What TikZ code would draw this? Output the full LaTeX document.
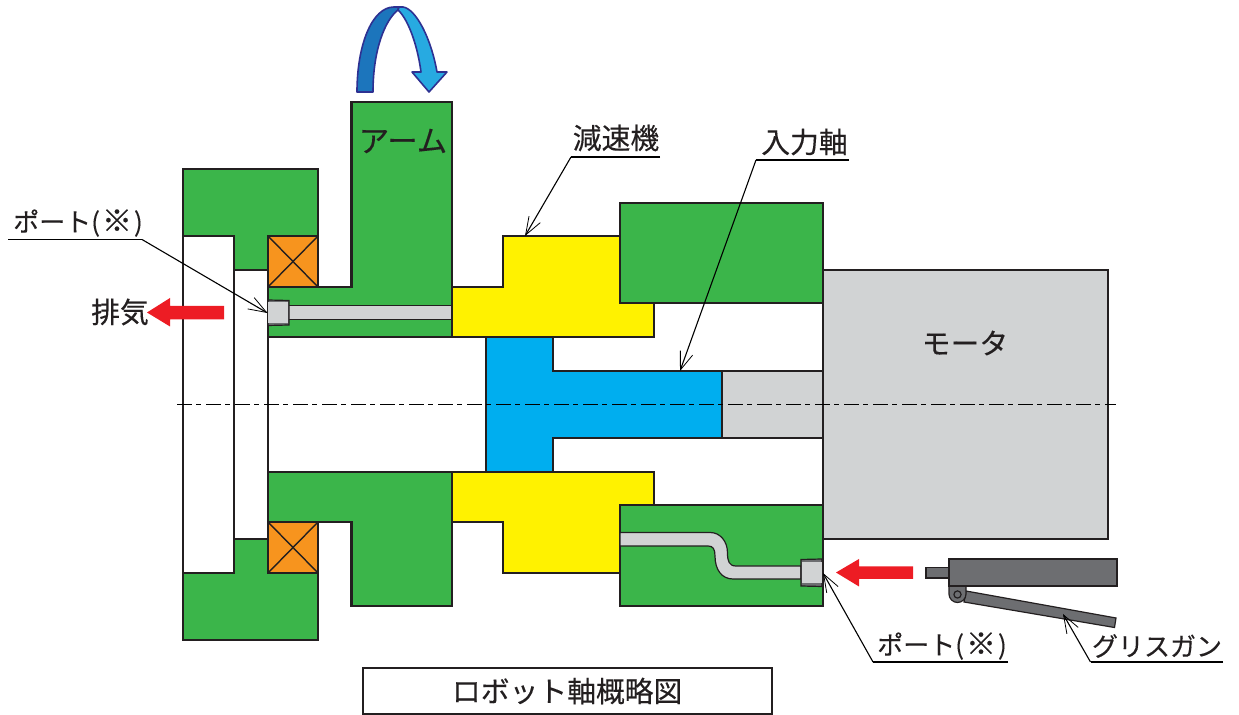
\documentclass[tikz,border=0pt]{standalone}
\usepackage{fontspec}
\setmainfont[FakeBold=0.25]{Noto Sans CJK JP}
\usetikzlibrary{arrows.meta}
\definecolor{cgreen}{HTML}{3BB54A}
\definecolor{corange}{HTML}{F7941E}
\definecolor{cyellow}{HTML}{FFF200}
\definecolor{cblue}{HTML}{00AEEF}
\definecolor{cgrey}{HTML}{D1D3D4}
\definecolor{cred}{HTML}{ED1C24}
\definecolor{cdark}{HTML}{6D6E71}
\definecolor{cink}{HTML}{231F20}
\definecolor{aleft}{HTML}{1C75BC}
\definecolor{aright}{HTML}{27AAE1}
\definecolor{aline}{HTML}{2E3192}
\tikzset{
  part/.style={draw=cink,line width=1.15pt,line join=miter},
  thinpart/.style={draw=cink,line width=0.6pt},
  leader/.style={draw=black,line width=0.55pt,-{Straight Barb[length=9pt,width=6.5pt,line width=0.4pt]}},
  rule/.style={draw=black,line width=0.7pt},
  lab/.style={inner sep=0pt,font=\fontsize{14.4pt}{16pt}\selectfont,text=cink},
  smalllab/.style={inner sep=0pt,font=\fontsize{13pt}{16pt}\selectfont,text=cink},
  redarrow/.style={fill=cred,draw=none},
  turn/.style={draw=aline,line width=0.8pt,line join=round}
}
\newcommand{\portname}{ポート(\hspace{1pt}{\fontsize{15pt}{16pt}\selectfont ※}\hspace{1pt})}
\begin{document}
\begin{tikzpicture}[x=0.5pt,y=-0.5pt]
\useasboundingbox (0,0) rectangle (1239,715);
% housing
\path[part,fill=cgreen] (183,169) -- (318,169) -- (318,236) -- (268,236) -- (268,270) -- (234,270) -- (234,236) -- (183,236) -- cycle;
\path[part,fill=cgreen] (183,573) -- (234,573) -- (234,539) -- (268,539) -- (268,573) -- (318,573) -- (318,640) -- (183,640) -- cycle;
\draw[cink,line width=1.15pt] (183,236) -- (183,573) (234,270) -- (234,539) (268,270) -- (268,539);
% arm
\path[part,fill=cgreen] (268,287) -- (351.5,287) -- (351.5,102) -- (452,102) -- (452,337) -- (268,337) -- cycle;
\path[part,fill=cgreen] (268,472) -- (452,472) -- (452,606) -- (351.5,606) -- (351.5,522) -- (268,522) -- cycle;
% bearings
\foreach \yy in {236,522}{
  \path[part,fill=corange] (268,\yy) rectangle (318,\yy+51);
  \draw[cink,line width=0.7pt] (268,\yy) -- (318,\yy+51) (318,\yy) -- (268,\yy+51);
}
% reducer
\path[part,fill=cyellow] (452,287) -- (503,287) -- (503,236) -- (620,236) -- (620,303) -- (654,303) -- (654,337) -- (452,337) -- cycle;
\path[part,fill=cyellow] (452,472) -- (654,472) -- (654,505) -- (620,505) -- (620,573) -- (503,573) -- (503,522) -- (452,522) -- cycle;
% case
\path[part,fill=cgreen] (620,203) rectangle (823,303);
\path[part,fill=cgreen] (620,505) rectangle (823,606);
% motor and shaft
\path[part,fill=cgrey] (823,270) rectangle (1108,539);
\path[part,fill=cgrey] (722,371) rectangle (823,438);
\path[part,fill=cblue] (486,337) -- (553,337) -- (553,371) -- (722,371) -- (722,438) -- (553,438) -- (553,472) -- (486,472) -- cycle;
% upper channel and port
\path[thinpart,fill=cgrey] (288,305.5) rectangle (452,319.5);
\path[thinpart,fill=cdark] (268,300) -- (289,300.5) -- (289,325) -- (268,325.5) -- cycle;
\path[fill=cgrey] (268,302) rectangle (288,323);
% lower channel and port
\path[thinpart,fill=cgrey] (620,532.5) -- (710,532.5) .. controls (720,532.5) and (727.5,541) .. (727.5,553) .. controls (727.5,561) and (729,566) .. (736,566) -- (801,566) -- (801,579) -- (733,579) .. controls (722,579) and (715,570) .. (715,556) .. controls (715,549) and (713,546) .. (708,546) -- (620,546) -- cycle;
\path[thinpart,fill=cdark] (801,559.5) -- (822,559) -- (822,586.5) -- (801,586) -- cycle;
\path[fill=cgrey] (802,562.5) rectangle (822,583);
% centre line
\draw[black,line width=0.6pt,dash pattern=on 7.5pt off 2.2pt on 2.5pt off 2.3pt] (177,404.5) -- (1116,404.5);
% red arrows
\path[redarrow] (147,312.5) -- (170,298) -- (170,306) -- (224,306) -- (224,319.5) -- (170,319.5) -- (170,326.5) -- cycle;
\path[redarrow] (836,572.5) -- (859,559) -- (859,566.5) -- (913,566.5) -- (913,579) -- (859,579) -- (859,586.5) -- cycle;
% grease gun
\path[thinpart,fill=cdark] (926,567.5) rectangle (949,578);
\path[thinpart,fill=cdark] (966,591) -- (1116,618) -- (1114.5,627.5) -- (964,602) -- cycle;
\path[thinpart,fill=cdark] (949,586) -- (966,586) -- (966,594) arc[start angle=0,end angle=180,radius=8.5] -- cycle;
\path[thinpart,fill=cdark] (949,559) rectangle (1117,586);
\path[thinpart,fill=cdark] (957.5,594.5) circle[radius=3.6];
% rotation arrow
\path[turn,fill=aleft] (357,92) .. controls (357,45) and (372,7) .. (394,7) -- (399,7) -- (398,10) .. controls (385,20) and (373,50) .. (373,92) -- cycle;
\path[turn,fill=aright] (398,10) -- (399,7) -- (403,7) .. controls (416,9) and (431,38) .. (437,72) -- (447,72) -- (429,92) -- (412,72) -- (421,72) .. controls (417,42) and (407,18) .. (398,10) -- cycle;
% labels
\node[lab,font=\fontsize{15.2pt}{16pt}\selectfont] (arm) at (403,141) {アーム};
\node[lab] (gen) at (616,138) {減速機};
\node[lab] (inp) at (804.5,142) {入力軸};
\node[smalllab] (portA) at (78,223) {\portname};
\node[smalllab] (portB) at (942,646) {\portname};
\node[smalllab] (gun) at (1157,646) {グリスガン};
\node[lab] (exh) at (120,312) {排気};
\node[lab] (mot) at (965,343) {モータ};
\node[lab,draw=cink,line width=1.15pt,minimum width=204.5pt,minimum height=23pt] (title) at (567.2,691) {ロボット軸概略図};
% leaders
\coordinate (g0) at (660,157); \coordinate (g1) at (571,157); \coordinate (gt) at (525,236);
\coordinate (i0) at (849,160); \coordinate (i1) at (756,160); \coordinate (it) at (680,371);
\coordinate (a0) at (8,239.5); \coordinate (a1) at (142,239.5); \coordinate (at1) at (267.5,313);
\coordinate (b0) at (1008,662); \coordinate (b1) at (873,662); \coordinate (bt) at (823,573);
\coordinate (c0) at (1223,662); \coordinate (c1) at (1090.5,662); \coordinate (ct) at (1063,614);
\draw[rule] (g0) -- (g1); \draw[leader] (g1) -- (gt);
\draw[rule] (i0) -- (i1); \draw[leader] (i1) -- (it);
\draw[rule] (a0) -- (a1); \draw[leader] (a1) -- (at1);
\draw[rule] (b0) -- (b1); \draw[leader] (b1) -- (bt);
\draw[rule] (c0) -- (c1); \draw[leader] (c1) -- (ct);
\end{tikzpicture}
\end{document}
